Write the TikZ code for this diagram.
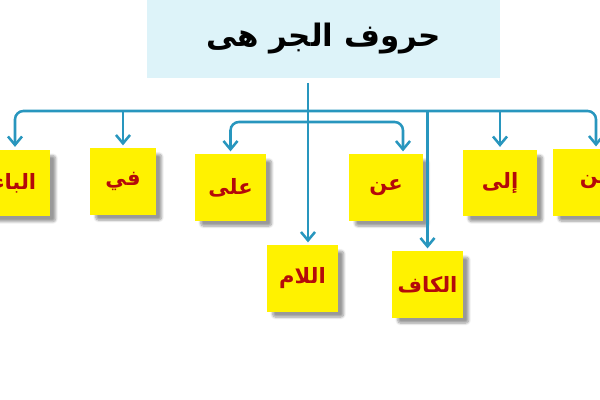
\documentclass[tikz,border=0pt]{standalone}
\usepackage{fontspec}
\usetikzlibrary{arrows.meta,shadows.blur}
\TeXXeTstate=1
\newfontfamily\arabicfont[Script=Arabic]{DejaVu Sans}
\definecolor{linkblue}{RGB}{40,150,190}
\definecolor{titlebg}{RGB}{221,243,249}
\definecolor{harfred}{RGB}{180,10,10}
\newcommand{\rtl}[1]{\raisebox{-2pt}{\beginR #1\endR}}

\begin{document}
\begin{tikzpicture}[x=0.025cm, y=-0.025cm,
  harf/.style={fill=yellow, minimum height=1.65cm, inner sep=0pt, text=harfred,
               font=\arabicfont\bfseries\fontsize{15}{17}\selectfont,
               blur shadow={shadow xshift=4pt, shadow yshift=-4pt, shadow blur steps=8,
                            shadow blur extra rounding=2pt}},
  link/.style={draw=linkblue, line width=1.8pt, rounded corners=6pt},
  tip/.style={-{Straight Barb[length=6pt,width=10pt]}, shorten >=2pt},
]
\useasboundingbox (0,0) rectangle (600,400);
\clip (0,0) rectangle (600,400);

% title
\node[fill=titlebg, minimum width=8.825cm, minimum height=1.95cm,
      font=\arabicfont\bfseries\fontsize{22}{26}\selectfont] (title) at (323.5,39)
      {\raisebox{-3pt}{\rtl{حروف الجر هى}}};

% boxes
\node[harf, minimum width=1.75cm]  (baa) at (15,183)     {\rtl{الباء}};
\node[harf, minimum width=1.65cm]  (fi)  at (123,181.5)  {\rtl{في}};
\node[harf, minimum width=1.775cm] (ala) at (230.5,187.5) {\rtl{على}};
\node[harf, minimum width=1.825cm] (an)  at (386,187.5)  {\rtl{عن}};
\node[harf, minimum width=1.85cm]  (ila) at (500,183)    {\rtl{إلى}};
\node[harf, minimum width=2.15cm]  (min) at (596,182.5)  {\rtl{من}};
\node[harf, minimum width=1.775cm] (lam) at (302.5,278.5) {\rtl{اللام}};
\node[harf, minimum width=1.775cm] (kaf) at (427.5,284.5) {\rtl{الكاف}};

% connectors
\coordinate (peak) at (308,83);
\coordinate (hub)  at (308,111);
\coordinate (hub2) at (308,122);
\coordinate (anin) at ([xshift=0.425cm]an.north);

\draw[link,tip] (peak) -- (lam.north -| peak);
\draw[link,tip] (hub) -- (hub -| baa.north) -- (baa.north);
\draw[link,tip] (hub) -- (hub -| min.north) -- (min.north);
\draw[link,tip] (hub -| fi.north) -- (fi.north);
\draw[link,tip] (hub -| ila.north) -- (ila.north);
\draw[link,tip] (hub -| kaf.north) -- (kaf.north);
\draw[link,tip] (hub2) -- (hub2 -| ala.north) -- (ala.north);
\draw[link,tip] (hub2) -- (hub2 -| anin) -- (anin);
\end{tikzpicture}
\end{document}
